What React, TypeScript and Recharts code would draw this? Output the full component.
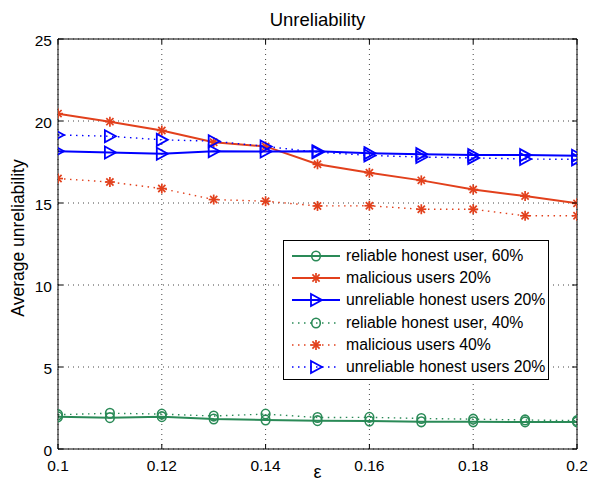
import { CartesianGrid, Line, LineChart, XAxis, YAxis } from "recharts";

// epsilon values on the x axis
const eps = [0.1, 0.11, 0.12, 0.13, 0.14, 0.15, 0.16, 0.17, 0.18, 0.19, 0.2];

// solid lines
const reliable60 = [1.96, 1.91, 1.97, 1.83, 1.77, 1.73, 1.7, 1.66, 1.66, 1.65, 1.65];
const malicious20 = [20.45, 19.96, 19.42, 18.7, 18.45, 17.36, 16.84, 16.38, 15.82, 15.42, 14.98];
const unreliable20 = [18.16, 18.08, 18.0, 18.16, 18.14, 18.16, 18.04, 17.98, 17.92, 17.92, 17.88];

// dotted lines
const reliable40 = [2.09, 2.18, 2.13, 2.01, 2.13, 1.92, 1.93, 1.86, 1.82, 1.77, 1.73];
const malicious40 = [16.49, 16.28, 15.88, 15.21, 15.11, 14.82, 14.83, 14.62, 14.62, 14.22, 14.22];
const unreliable20b = [19.15, 19.07, 18.85, 18.77, 18.45, 18.1, 17.9, 17.8, 17.75, 17.68, 17.66];

const xTicks = [0.1, 0.12, 0.14, 0.16, 0.18, 0.2];
const yTicks = [0, 5, 10, 15, 20, 25];

const GREEN = "#2a8a57";
const RED = "#e2401c";
const BLUE = "#0000ff";
const FONT = "'Liberation Sans', Arial, Helvetica, sans-serif";

type Kind = "o" | "*" | ">";

const series: { key: string; name: string; color: string; dotted: boolean; marker: Kind; values: number[] }[] = [
  { key: "rel60", name: "reliable honest user, 60%", color: GREEN, dotted: false, marker: "o", values: reliable60 },
  { key: "mal20", name: "malicious users 20%", color: RED, dotted: false, marker: "*", values: malicious20 },
  { key: "unr20", name: "unreliable honest users 20%", color: BLUE, dotted: false, marker: ">", values: unreliable20 },
  { key: "rel40", name: "reliable honest user, 40%", color: GREEN, dotted: true, marker: "o", values: reliable40 },
  { key: "mal40", name: "malicious users 40%", color: RED, dotted: true, marker: "*", values: malicious40 },
  { key: "unr20b", name: "unreliable honest users 20%", color: BLUE, dotted: true, marker: ">", values: unreliable20b },
];

const data = eps.map((e, i) => {
  const row: Record<string, number> = { eps: e };
  series.forEach((s) => (row[s.key] = s.values[i]));
  return row;
});

function Marker({ kind, cx, cy, color }: { kind: Kind; cx: number; cy: number; color: string }) {
  if (kind === "o") {
    return <ellipse cx={cx} cy={cy} rx={4.3} ry={4.8} fill="none" stroke={color} strokeWidth={1.6} />;
  }
  if (kind === "*") {
    const r = 5;
    const d = 3.6;
    return (
      <g stroke={color} strokeWidth={1.7}>
        <line x1={cx - r} y1={cy} x2={cx + r} y2={cy} />
        <line x1={cx} y1={cy - r} x2={cx} y2={cy + r} />
        <line x1={cx - d} y1={cy - d} x2={cx + d} y2={cy + d} />
        <line x1={cx - d} y1={cy + d} x2={cx + d} y2={cy - d} />
      </g>
    );
  }
  return (
    <polygon
      points={`${cx - 5},${cy - 6} ${cx + 6},${cy} ${cx - 5},${cy + 6}`}
      fill="none"
      stroke={color}
      strokeWidth={1.8}
    />
  );
}

const tickText = { fontFamily: FONT, fontSize: 15.5, fill: "#000" };

function BottomTick({ x, y, payload }: any) {
  return (
    <g>
      <line x1={x} y1={y} x2={x} y2={y - 5} stroke="#000" />
      <text x={x} y={y + 22} textAnchor="middle" {...tickText}>
        {String(payload.value)}
      </text>
    </g>
  );
}

function TopTick({ x, y }: any) {
  return <line x1={x} y1={y} x2={x} y2={y + 5} stroke="#000" />;
}

function LeftTick({ x, y, payload }: any) {
  return (
    <g>
      <line x1={x} y1={y} x2={x + 5} y2={y} stroke="#000" />
      <text x={x - 6} y={y + 6.5} textAnchor="end" {...tickText}>
        {String(payload.value)}
      </text>
    </g>
  );
}

function RightTick({ x, y }: any) {
  return <line x1={x} y1={y} x2={x - 5} y2={y} stroke="#000" />;
}

function LegendBox() {
  return (
    <div
      style={{
        position: "absolute",
        left: 283,
        top: 240,
        width: 266,
        height: 140,
        boxSizing: "border-box",
        border: "1px solid #000",
        background: "#fff",
        fontFamily: FONT,
        fontSize: 15.8,
      }}
    >
      {series.map((s, i) => (
        <div key={s.key} style={{ position: "absolute", left: 0, top: 4 + i * 22.2, height: 22, display: "flex", alignItems: "center" }}>
          <svg width={60} height={22} style={{ display: "block" }}>
            <line
              x1={8}
              y1={11}
              x2={56}
              y2={11}
              stroke={s.color}
              strokeWidth={s.dotted ? 1.4 : 2}
              strokeDasharray={s.dotted ? "1.5 4.5" : undefined}
            />
            <Marker kind={s.marker} cx={32} cy={11} color={s.color} />
          </svg>
          <span style={{ marginLeft: 2, whiteSpace: "nowrap" }}>{s.name}</span>
        </div>
      ))}
    </div>
  );
}

export default function App() {
  return (
    <div style={{ position: "relative", width: 591, height: 489, background: "#fff" }}>
      <style>{"body{margin:0}"}</style>
      <LineChart
        width={591}
        height={489}
        data={data}
        margin={{ top: 38, right: 13, bottom: 10, left: 18 }}
      >
        <CartesianGrid xAxisId="b" yAxisId="l" stroke="#444" strokeDasharray="1 4" />
        <XAxis
          xAxisId="b"
          dataKey="eps"
          type="number"
          domain={[0.1, 0.2]}
          ticks={xTicks}
          allowDataOverflow
          height={30}
          tickSize={0}
          tickMargin={0}
          tickLine={false}
          axisLine={{ stroke: "#000" }}
          tick={BottomTick}
          interval={0}
        />
        <XAxis
          xAxisId="t"
          orientation="top"
          dataKey="eps"
          type="number"
          domain={[0.1, 0.2]}
          ticks={xTicks}
          allowDataOverflow
          height={1}
          tickSize={0}
          tickMargin={0}
          tickLine={false}
          axisLine={{ stroke: "#000" }}
          tick={TopTick}
          interval={0}
        />
        <YAxis
          yAxisId="l"
          type="number"
          domain={[0, 25]}
          ticks={yTicks}
          allowDataOverflow
          width={40}
          tickSize={0}
          tickMargin={0}
          tickLine={false}
          axisLine={{ stroke: "#000" }}
          tick={LeftTick}
          interval={0}
        />
        <YAxis
          yAxisId="r"
          orientation="right"
          type="number"
          domain={[0, 25]}
          ticks={yTicks}
          allowDataOverflow
          width={1}
          tickSize={0}
          tickMargin={0}
          tickLine={false}
          axisLine={{ stroke: "#000" }}
          tick={RightTick}
          interval={0}
        />
        {series.map((s) => (
          <Line
            key={s.key}
            xAxisId="b"
            yAxisId="l"
            dataKey={s.key}
            name={s.name}
            stroke={s.color}
            strokeWidth={s.dotted ? 1.4 : 2}
            strokeDasharray={s.dotted ? "1.5 4.5" : undefined}
            isAnimationActive={false}
            dot={(p: any) => <Marker key={`${s.key}-${p.index}`} kind={s.marker} cx={p.cx} cy={p.cy} color={s.color} />}
            activeDot={false}
          />
        ))}
      </LineChart>
      <div
        style={{
          position: "absolute",
          left: 58,
          width: 519,
          top: 9,
          textAlign: "center",
          fontFamily: FONT,
          fontSize: 18.5,
        }}
      >
        Unreliability
      </div>
      <div
        style={{
          position: "absolute",
          left: 58,
          width: 519,
          top: 462,
          textAlign: "center",
          fontFamily: FONT,
          fontSize: 18,
        }}
      >
        ε
      </div>
      <div
        style={{
          position: "absolute",
          left: 18,
          top: 238,
          transform: "translate(-50%, -50%) rotate(-90deg)",
          whiteSpace: "nowrap",
          fontFamily: FONT,
          fontSize: 17.5,
        }}
      >
        Average unreliability
      </div>
      <LegendBox />
    </div>
  );
}
